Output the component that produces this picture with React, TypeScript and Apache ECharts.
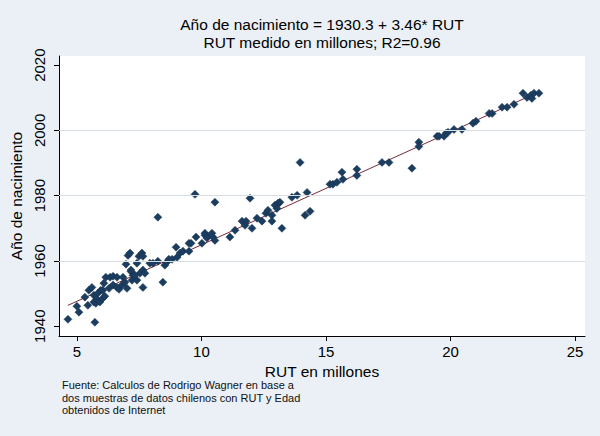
import React, { useEffect, useRef } from "react";
import * as echarts from "echarts";

const rut = [
  4.64, 5.0, 5.08, 5.32, 5.44, 5.48, 5.6, 5.68, 5.68, 5.72, 5.76, 5.8, 5.84, 5.92, 5.96, 6.04, 6.04, 6.08, 6.12, 6.16,
  6.29, 6.33, 6.45, 6.45, 6.61, 6.61, 6.69, 6.81, 6.85, 6.93, 6.97, 7.01, 7.05, 7.17, 7.21, 7.25, 7.41, 7.49, 7.53,
  7.13, 7.17, 7.33, 7.41, 7.61, 7.65, 7.65, 7.73, 7.65, 7.93, 8.05, 8.25, 8.25, 8.45, 8.53, 8.61, 8.69, 8.82, 8.98,
  9.02, 9.14, 9.26, 9.5, 9.58, 9.5, 9.78, 10.02, 10.14, 10.22, 9.74,
  10.54, 11.95, 10.14, 10.22, 10.42, 10.46, 10.54, 11.14, 11.35, 11.63, 11.79, 11.75, 12.03, 12.23, 12.43, 12.59,
  12.67, 12.83, 12.83, 12.95, 13.07, 13.11, 13.03, 13.23,
  13.96, 13.15, 13.63, 13.84, 14.24, 14.16, 14.36, 15.16, 15.28, 15.44, 15.64, 15.68, 16.24, 16.24,
  17.25, 17.53, 18.45, 18.73, 18.73, 19.46, 19.54, 19.74, 19.82, 19.9, 20.14, 20.46, 20.9, 21.02, 21.55, 21.67,
  22.07, 22.27, 22.55, 22.91, 23.07, 23.23, 23.27, 23.35, 23.55,
];

const anio = [
  1942.1, 1946.1, 1944.3, 1948.9, 1946.4, 1951.0, 1951.9, 1949.5, 1947.4, 1941.2, 1947.0, 1948.3, 1950.1, 1947.4,
  1951.0, 1951.0, 1948.6, 1953.2, 1949.2, 1955.0, 1951.6, 1955.0, 1955.3, 1952.6, 1955.0, 1951.9, 1951.3, 1952.6,
  1955.0, 1953.5, 1959.0, 1951.6, 1961.7, 1956.8, 1954.1, 1955.6, 1954.1, 1961.4, 1956.2,
  1962.4, 1957.2, 1955.6, 1959.3, 1962.4, 1961.4, 1957.2, 1956.2, 1951.9, 1959.3, 1959.3, 1973.4, 1959.9, 1953.5,
  1958.7, 1959.6, 1960.5, 1960.5, 1964.2, 1961.1, 1962.4, 1963.0, 1965.4, 1965.4, 1963.0, 1967.3, 1965.4, 1968.5,
  1967.6, 1980.4,
  1978.0, 1979.2, 1967.9, 1967.0, 1968.5, 1967.3, 1966.3, 1967.3, 1969.4, 1972.2, 1972.2, 1970.9, 1970.0, 1973.1,
  1972.2, 1974.6, 1975.5, 1974.0, 1972.2, 1977.1, 1977.7, 1977.7, 1976.1, 1970.0,
  1990.2, 1978.0, 1979.5, 1980.1, 1981.0, 1974.0, 1975.2, 1983.5, 1983.5, 1984.1, 1987.2, 1985.0, 1988.1, 1986.2,
  1990.2, 1990.2, 1988.4, 1996.4, 1995.1, 1998.2, 1998.2, 1998.2, 1999.1, 1999.4, 2000.3, 2000.3, 2002.2, 2002.8,
  2005.2, 2005.2, 2007.1, 2007.1, 2008.0, 2011.4, 2010.1, 2010.8, 2009.8, 2011.4, 2011.4,
];

// fitted line endpoints (Año = 1930.3 + 3.46*RUT), read at the ends of the drawn line
const fitX = [4.64, 23.55];
const fitY = [1946.4, 2011.8];

const xTicks = [5, 10, 15, 20, 25];
const yTicks = [1940, 1960, 1980, 2000, 2020];
const yGrid = [1960, 1980, 2000];

const titleLines = ["Año de nacimiento = 1930.3 + 3.46* RUT", "RUT medido en millones; R2=0.96"];
const noteLines = [
  "Fuente: Calculos de Rodrigo Wagner en base a",
  "dos muestras de datos chilenos con RUT y Edad",
  "obtenidos de Internet",
];

const FONT = "Arial, 'Liberation Sans', sans-serif";

export default function App() {
  const ref = useRef<HTMLDivElement>(null);
  useEffect(() => {
    if (!ref.current) return;
    const chart = echarts.init(ref.current, null, { renderer: "svg" });
    const points = rut.map((x, i) => [x, anio[i]]);
    const fit = fitX.map((x, i) => [x, fitY[i]]);
    chart.setOption({
      animation: false,
      backgroundColor: "#EAF0F5",
      textStyle: { fontFamily: FONT },
      grid: {
        left: 59,
        top: 56,
        right: 15,
        bottom: 100,
        show: true,
        backgroundColor: "#ffffff",
        borderWidth: 0,
      },
      graphic: [
        ...titleLines.map((t, i) => ({
          type: "text",
          x: 322,
          y: 24 + i * 18,
          style: {
            text: t,
            fill: "#000",
            font: `15.5px ${FONT}`,
            textAlign: "center",
            textVerticalAlign: "middle",
          },
        })),
        ...noteLines.map((t, i) => ({
          type: "text",
          x: 62,
          y: 385 + i * 12.6,
          style: {
            text: t,
            fill: "#111",
            font: `11px ${FONT}`,
            textAlign: "left",
            textVerticalAlign: "middle",
          },
        })),
      ],
      xAxis: {
        type: "value",
        min: 4.28,
        max: 25.4,
        name: "RUT en millones",
        nameLocation: "middle",
        nameGap: 24,
        nameTextStyle: { fontSize: 15.5, color: "#000", fontFamily: FONT },
        axisLine: { show: true, onZero: false, lineStyle: { color: "#000", width: 1 } },
        axisTick: { show: true, length: 5, customValues: xTicks, lineStyle: { color: "#000" } },
        axisLabel: {
          customValues: xTicks,
          fontSize: 15,
          color: "#000",
          margin: 8,
          fontFamily: FONT,
          formatter: (v: number) => String(v),
        },
        splitLine: { show: false },
      },
      yAxis: {
        type: "value",
        min: 1937,
        max: 2022.8,
        name: "Año de nacimiento",
        nameLocation: "middle",
        nameGap: 29,
        nameTextStyle: { fontSize: 15.5, color: "#000", fontFamily: FONT },
        axisLine: { show: true, onZero: false, lineStyle: { color: "#000", width: 1 } },
        axisTick: { show: true, length: 5, customValues: yTicks, lineStyle: { color: "#000" } },
        axisLabel: {
          customValues: yTicks,
          rotate: 90,
          fontSize: 15,
          color: "#000",
          margin: 12,
          fontFamily: FONT,
          formatter: (v: number) => String(v),
        },
        splitLine: { show: false },
      },
      series: [
        {
          type: "line",
          data: fit,
          symbol: "none",
          silent: true,
          lineStyle: { color: "#7a2a3a", width: 1 },
          z: 1,
          markLine: {
            silent: true,
            symbol: "none",
            label: { show: false },
            lineStyle: { color: "#d6dde3", width: 1, type: "solid" },
            data: yGrid.map((v) => ({ yAxis: v })),
          },
        },
        {
          type: "scatter",
          data: points,
          symbol: "diamond",
          symbolSize: 8,
          itemStyle: { color: "#1b3d60", borderColor: "#17324f", borderWidth: 0.5, opacity: 1 },
          z: 2,
        },
      ],
    });
    return () => chart.dispose();
  }, []);
  return <div ref={ref} style={{ width: 600, height: 436, position: "absolute", left: 0, top: 0 }} />;
}
